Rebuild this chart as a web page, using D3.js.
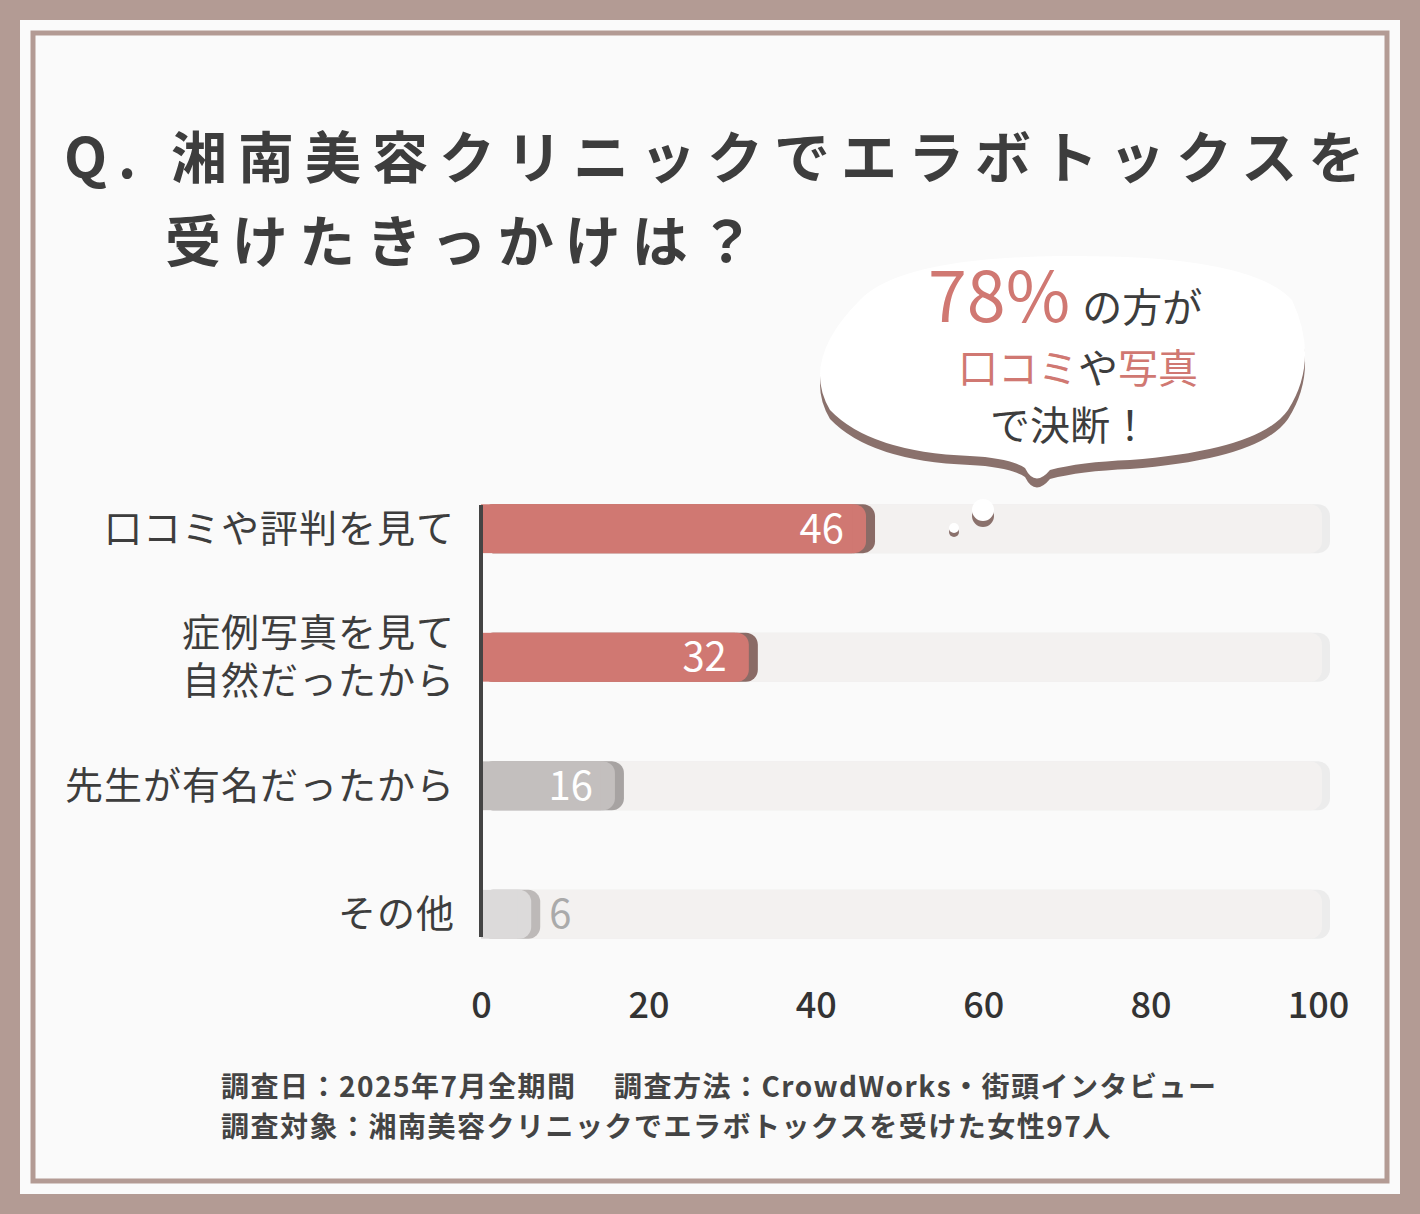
<!DOCTYPE html>
<html><head><meta charset="utf-8">
<script src="https://cdn.jsdelivr.net/npm/d3@7"></script>
<style>body{margin:0;background:#b39b94}svg{display:block}</style>
</head><body>
<svg id="c" width="1420" height="1214"></svg>
<script>
const categories = ['口コミや評判を見て', '症例写真を見て\n自然だったから', '先生が有名だったから', 'その他']
const values = [46, 32, 16, 6]
const ticks = [0, 20, 40, 60, 80, 100]
const barColors = ['#d07872', '#d07872', '#c3bfbe', '#dcdada']
const shadeColors = ['#8a6b66', '#8a6b66', '#a7a3a2', '#bdb9b8']
const labelColors = ['#fff', '#fff', '#fff', '#aaa']

const svg = d3.select('#c')
const font = '"Noto Sans CJK JP", "Noto Sans", sans-serif'

svg.append('rect').attr('x', 20).attr('y', 20).attr('width', 1380).attr('height', 1174).attr('fill', '#fafafa')
svg.append('rect').attr('x', 33).attr('y', 33).attr('width', 1354).attr('height', 1148)
    .attr('fill', 'none').attr('stroke', '#b39b94').attr('stroke-width', 5)

// title
const title = svg.append('text').attr('font-family', font).attr('font-weight', 700)
    .attr('font-size', 56).attr('fill', '#3d3d3d').attr('letter-spacing', 11)
title.append('tspan').attr('x', 64).attr('y', 178).text('Q. 湘南美容クリニックでエラボトックスを')
title.append('tspan').attr('x', 165).attr('y', 262).text('受けたきっかけは？')

const x = d3.scaleLinear().domain([0, 100]).range([481, 1318])
const y = d3.scaleBand().domain(categories).range([503, 940]).paddingInner(0.62).paddingOuter(0.01)
const bh = y.bandwidth()

const g = svg.append('g')
// background tracks
g.selectAll('.track').data(categories).join('rect')
    .attr('x', x(0)).attr('y', d => y(d)).attr('width', x(100) - x(0) + 12).attr('height', bh)
    .attr('rx', 12).attr('fill', '#ececec')
g.selectAll('.track2').data(categories).join('rect')
    .attr('x', x(0)).attr('y', d => y(d)).attr('width', x(100) - x(0) + 4).attr('height', bh)
    .attr('rx', 12).attr('fill', '#f3f1f0')

// bars with shadow
g.selectAll('.sh').data(values).join('rect')
    .attr('x', x(0)).attr('y', (d, i) => y(categories[i]))
    .attr('width', d => x(d) - x(0) + 9).attr('height', bh).attr('rx', 12)
    .attr('fill', (d, i) => shadeColors[i])
g.selectAll('.bar').data(values).join('rect')
    .attr('x', x(0)).attr('y', (d, i) => y(categories[i]))
    .attr('width', d => x(d) - x(0)).attr('height', bh).attr('rx', 12)
    .attr('fill', (d, i) => barColors[i])
g.selectAll('.bar2').data(values).join('rect')
    .attr('x', x(0)).attr('y', (d, i) => y(categories[i]))
    .attr('width', d => Math.max(0, x(d) - x(0) - 14)).attr('height', bh)
    .attr('fill', (d, i) => barColors[i])

g.selectAll('.val').data(values).join('text')
    .attr('x', (d, i) => i === 3 ? x(d) + 18 : x(d) - 22)
    .attr('y', (d, i) => y(categories[i]) + bh / 2 + 14)
    .attr('text-anchor', (d, i) => i === 3 ? 'start' : 'end')
    .attr('font-family', font).attr('font-size', 40).attr('fill', (d, i) => labelColors[i])
    .text(d => d)

// category labels
g.selectAll('.cat').data(categories).join('text')
    .attr('font-family', font).attr('font-size', 38).attr('fill', '#3d3d3d')
    .attr('text-anchor', 'end').attr('letter-spacing', 1)
    .each(function (d) {
        const lines = d.split('\n')
        const cy = y(d) + bh / 2
        lines.forEach((l, i) => d3.select(this).append('tspan')
            .attr('x', 455).attr('y', cy + 13 + (i - (lines.length - 1) / 2) * 48).text(l))
    })

// axis line
svg.append('line').attr('x1', x(0)).attr('x2', x(0)).attr('y1', 505).attr('y2', 937)
    .attr('stroke', '#444').attr('stroke-width', 4)

const axis = d3.axisBottom(x).tickValues(ticks).tickSize(0).tickPadding(0)
const ax = svg.append('g').attr('transform', 'translate(0,1018)').call(axis)
ax.select('.domain').remove()
ax.selectAll('text').attr('font-family', font).attr('font-size', 36).attr('font-weight', 500)
    .attr('fill', '#333').attr('dy', 0)

// speech bubble
const bub = svg.append('g')
const cloud = 'M860,300 Q900,258 1060,256 Q1250,254 1292,300 Q1320,360 1288,410 Q1260,450 1130,460 Q1080,462 1050,470 Q1035,488 1025,468 Q1010,458 970,456 Q870,452 830,410 Q800,360 860,300 Z'
bub.append('path').attr('d', cloud).attr('fill', '#8a716c').attr('transform', 'translate(0,9)')
bub.append('path').attr('d', cloud).attr('fill', '#fff')
bub.append('circle').attr('cx', 983).attr('cy', 516).attr('r', 11).attr('fill', '#8a716c')
bub.append('circle').attr('cx', 983).attr('cy', 510).attr('r', 11).attr('fill', '#fff')
bub.append('circle').attr('cx', 954).attr('cy', 532).attr('r', 5).attr('fill', '#8a716c')
bub.append('circle').attr('cx', 954).attr('cy', 528).attr('r', 5).attr('fill', '#fff')

const t1 = bub.append('text').attr('font-family', font).attr('y', 322)
t1.append('tspan').attr('x', 928).attr('font-size', 70).attr('fill', '#d07872').text('78%')
t1.append('tspan').attr('dx', 12).attr('font-size', 40).attr('fill', '#3d3d3d').text('の方が')
const t2 = bub.append('text').attr('font-family', font).attr('font-size', 40).attr('y', 383)
    .attr('x', 1078).attr('text-anchor', 'middle')
t2.append('tspan').attr('fill', '#d07872').text('口コミ')
t2.append('tspan').attr('fill', '#3d3d3d').text('や')
t2.append('tspan').attr('fill', '#d07872').text('写真')
bub.append('text').attr('font-family', font).attr('font-size', 40).attr('x', 1070).attr('y', 440)
    .attr('text-anchor', 'middle').attr('fill', '#3d3d3d').text('で決断！')

// footer
const foot = svg.append('text').attr('font-family', font).attr('font-size', 28).attr('font-weight', 700)
    .attr('fill', '#444').attr('letter-spacing', 1.5)
foot.append('tspan').attr('x', 221).attr('y', 1097).text('調査日：2025年7月全期間　 調査方法：CrowdWorks・街頭インタビュー')
foot.append('tspan').attr('x', 221).attr('y', 1137).text('調査対象：湘南美容クリニックでエラボトックスを受けた女性97人')
</script>
</body></html>
